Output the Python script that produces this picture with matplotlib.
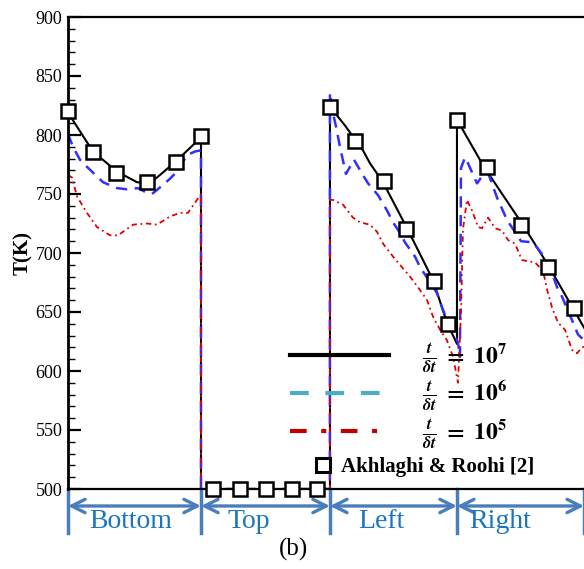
import matplotlib.pyplot as plt
from matplotlib.lines import Line2D
from matplotlib.ticker import MultipleLocator

plt.rcParams['font.family'] = ['Liberation Serif', 'DejaVu Serif']
plt.rcParams['mathtext.fontset'] = 'stix'

# perimeter position (x) along the four walls
walls = ["Bottom", "Top", "Left", "Right"]
wall_edges = [0.0, 1.023, 2.015, 2.992, 3.97]
wall_label_x = [0.485, 1.392, 2.408, 3.323]

# t/dt = 1e7 (solid black)
x_1e7 = [0, 0.192, 0.377, 0.531, 0.608, 0.685, 0.823, 0.938, 1.023,
         1.023, 2.015,
         2.015, 2.131, 2.269, 2.323, 2.423, 2.608, 2.808, 2.915, 2.992,
         2.992, 3.2, 3.492, 3.692, 3.885, 4.015]
T_1e7 = [819, 786, 769, 760, 759, 764, 777, 789, 798,
         500, 500,
         824, 808, 787, 776, 760, 721, 677, 641, 623,
         813, 773, 725, 690, 653, 628]

# t/dt = 1e6 (dashed blue)
x_1e6 = [0, 0.038, 0.092, 0.146, 0.269, 0.377, 0.454, 0.538, 0.608, 0.646,
         0.723, 0.785, 0.846, 0.915, 0.977, 1.023,
         1.023, 2.015,
         2.015, 2.031, 2.062, 2.092, 2.138, 2.2, 2.269, 2.308, 2.385, 2.454,
         2.5, 2.554, 2.592, 2.669, 2.708, 2.769, 2.838, 2.877, 2.915, 2.954,
         3.0, 3.015,
         3.023, 3.054, 3.077, 3.146, 3.185, 3.231, 3.3, 3.377, 3.485, 3.577,
         3.654, 3.723, 3.762, 3.8, 3.862, 3.923, 3.969, 4.015]
T_1e6 = [801, 790, 779, 773, 760, 755, 754, 755, 751, 750,
         757, 763, 770, 783, 786, 787,
         500, 500,
         836, 822, 807, 790, 767, 779, 766, 759, 749, 736,
         726, 717, 709, 697, 688, 678, 666, 654, 643, 637,
         624, 612,
         772, 781, 776, 759, 765, 768, 747, 728, 710, 709,
         698, 683, 671, 663, 647, 631, 626, 622]

# t/dt = 1e5 (dash-dot red)
x_1e5 = [0, 0.031, 0.069, 0.146, 0.223, 0.323, 0.385, 0.5, 0.608, 0.685,
         0.785, 0.862, 0.923, 0.992, 1.023,
         1.023, 2.015,
         2.015, 2.038, 2.115, 2.192, 2.246, 2.323, 2.377, 2.423, 2.5, 2.569,
         2.631, 2.692, 2.762, 2.808, 2.862, 2.915, 2.962, 3.0,
         3.023, 3.038, 3.069, 3.108, 3.154, 3.185, 3.231, 3.285, 3.338, 3.385,
         3.438, 3.492, 3.592, 3.654, 3.685, 3.723, 3.769, 3.823, 3.877, 3.915,
         3.954, 4.015]
T_1e5 = [766, 764, 748, 734, 722, 715, 715, 724, 725, 724,
         731, 734, 734, 745, 750,
         500, 500,
         745, 745, 741, 730, 726, 724, 718, 708, 697, 688,
         680, 671, 660, 646, 635, 626, 612, 590,
         650, 720, 745, 736, 722, 721, 730, 721, 719, 711,
         708, 694, 692, 685, 669, 654, 641, 635, 618, 615,
         620, 622]

# Akhlaghi & Roohi [2]
x_ref = [0, 0.192, 0.369, 0.608, 0.831, 1.023,
         1.115, 1.323, 1.523, 1.723, 1.915,
         2.015, 2.208, 2.431, 2.6, 2.815, 2.923,
         2.992, 3.223, 3.485, 3.692, 3.892]
T_ref = [820, 786, 768, 760, 777, 799,
         500, 500, 500, 500, 500,
         824, 795, 761, 720, 676, 640,
         813, 773, 724, 688, 653]

fig = plt.figure(figsize=(5.84, 5.69), dpi=100)
ax = fig.add_axes([68 / 584, 80 / 569, 520 / 584, 472 / 569])

ax.plot(x_1e7, T_1e7, color='black', lw=1.5)
ax.plot(x_1e6, T_1e6, color='#3030ff', lw=1.8, dashes=(4.5, 3))
ax.plot(x_1e5, T_1e5, color='#e00000', lw=1.3, dashes=(3, 2, 1, 2))
ax.plot(x_ref, T_ref, ls='none', marker='s', ms=10, mfc='white', mec='black',
        mew=1.8, clip_on=False, zorder=5)

ax.set_xlim(0, 4.0)
ax.set_ylim(500, 900)
ax.set_xticks([])
ax.yaxis.set_major_locator(MultipleLocator(50))
ax.yaxis.set_minor_locator(MultipleLocator(10))
ax.tick_params(axis='y', which='major', direction='in', length=9, width=1.6,
               labelsize=13, pad=4)
ax.tick_params(axis='y', which='minor', direction='in', length=5, width=1.0)
ax.spines['right'].set_visible(False)
ax.spines['left'].set_linewidth(2)
ax.spines['top'].set_linewidth(1.6)
ax.spines['bottom'].set_linewidth(1.6)
ax.set_ylabel('T(K)', fontsize=15, fontweight='bold', labelpad=2)

# legends
h1 = Line2D([], [], color='black', lw=3)
h2 = Line2D([], [], color='#4bacc6', lw=3, dashes=(4.5, 4))
h3 = Line2D([], [], color='#c00000', lw=3, dashes=(4, 3.5, 1.2, 3.5))
labs = [r'$\frac{\mathbfit{t}}{\mathbfit{\delta t}}\mathbf{\ =\ 10^7}$',
        r'$\frac{\mathbfit{t}}{\mathbfit{\delta t}}\mathbf{\ =\ 10^6}$',
        r'$\frac{\mathbfit{t}}{\mathbfit{\delta t}}\mathbf{\ =\ 10^5}$']
leg1 = ax.legend([h1, h2, h3], labs, loc='center left',
                 bbox_to_anchor=((290 - 68) / 520, (489 - 396) / 472),
                 frameon=False, fontsize=17, handlelength=4.2,
                 handletextpad=1.4, labelspacing=0.15, borderpad=0,
                 borderaxespad=0)
ax.add_artist(leg1)
h4 = Line2D([], [], ls='none', marker='s', ms=10, mfc='white', mec='black',
            mew=2.2)
ax.legend([h4], ['Akhlaghi & Roohi [2]'], loc='center left',
          bbox_to_anchor=((313 - 68) / 520, (489 - 467) / 472),
          frameon=False, prop={'size': 15, 'weight': 'bold'},
          handlelength=0.95, handletextpad=0.4, borderpad=0, borderaxespad=0)

# wall spans under the axis
blue_line = '#4a7ebb'
blue_text = '#1b75bc'
trans = ax.get_xaxis_transform()
for e in wall_edges:
    ax.axvline(e, ymin=-0.093, ymax=0, color=blue_line, lw=2.5, clip_on=False)
for i, name in enumerate(walls):
    ax.annotate('', xy=(wall_edges[i], -0.036), xytext=(wall_edges[i + 1], -0.036),
                xycoords=trans, textcoords=trans, annotation_clip=False,
                arrowprops=dict(arrowstyle='<->', color=blue_line, lw=2.4,
                                mutation_scale=24, shrinkA=0, shrinkB=0))
    ax.text(wall_label_x[i], -0.068, name, transform=trans, ha='center',
            va='center', fontsize=20, color=blue_text)

fig.text(294 / 584, 20 / 569, '(b)', ha='center', va='center', fontsize=18)

fig.savefig('out.png', dpi=100)
